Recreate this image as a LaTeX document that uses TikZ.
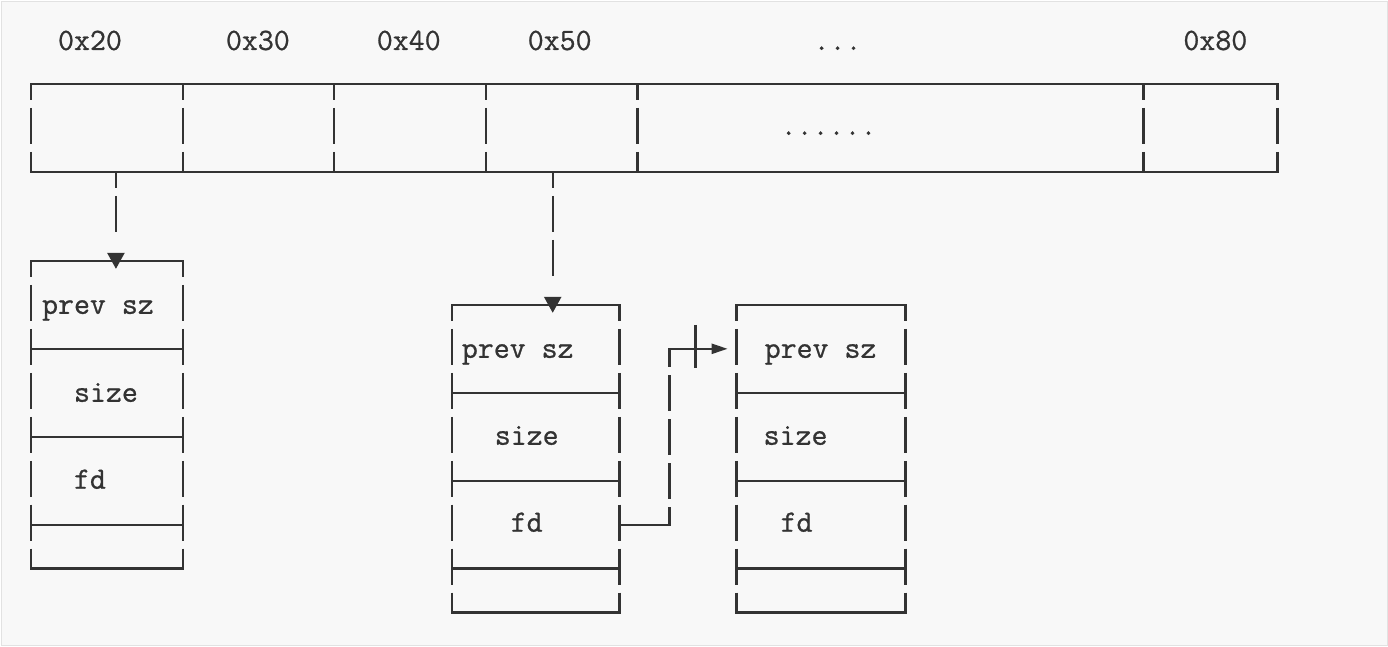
\documentclass[tikz,border=0pt]{standalone}
\usepackage{fontspec}
\newfontfamily\codefont[FakeBold=0.8]{Latin Modern Mono}
\usetikzlibrary{arrows.meta}
\definecolor{ink}{HTML}{333333}
\definecolor{bg}{HTML}{F8F8F8}
\definecolor{frame}{HTML}{E2E2E2}
\tikzset{
  hl/.style={draw=ink,line width=2.4pt,line cap=rect},
  vl/.style={draw=ink,line width=2.4pt,dash pattern=on 36pt off 8pt,dash phase=20pt},
  lbl/.style={text=ink,anchor=base,inner sep=0pt,font=\fontsize{31}{36}\selectfont\codefont},
  downarrow/.style={draw=ink,line width=2.4pt,-{Triangle[length=16pt,width=17pt]}},
  rightarrow/.style={draw=ink,line width=2.4pt,-{Triangle[length=16pt,width=10pt]}},
}
\newcommand{\chunkbox}[4]{%
  \coordinate (#1tl) at (#2,#4);
  \coordinate (#1tr) at (#3,#4);
  \coordinate (#1bl) at (#2,#4+308);
  \coordinate (#1br) at (#3,#4+308);
  \coordinate (#1l1) at (#2,#4+88);  \coordinate (#1r1) at (#3,#4+88);
  \coordinate (#1l2) at (#2,#4+176); \coordinate (#1r2) at (#3,#4+176);
  \coordinate (#1l3) at (#2,#4+264); \coordinate (#1r3) at (#3,#4+264);
  \coordinate (#1out) at (#3,#4+220);
  \draw[hl] (#1tl) -- (#1tr);
  \draw[hl] (#1l1) -- (#1r1);
  \draw[hl] (#1l2) -- (#1r2);
  \draw[hl] (#1l3) -- (#1r3);
  \draw[hl] (#1bl) -- (#1br);
  \draw[vl] (#1tl) -- (#1bl);
  \draw[vl] (#1tr) -- (#1br);
}
\begin{document}
\begin{tikzpicture}[x=1pt,y=-1pt]
\node[draw=frame,fill=bg,line width=1.5pt,minimum width=1386.5pt,minimum height=644.5pt,inner sep=0pt,anchor=north west] (bgrect) at (0.75,0.75) {};
\useasboundingbox (0,0) rectangle (1388,646);

% top array
\foreach \i/\x in {0/31,1/183,2/334,3/486,4/638,5/1144,6/1278}{
  \coordinate (t\i) at (\x,84);
  \coordinate (b\i) at (\x,172);
}
\draw[hl] (t0) -- (t6);
\draw[hl] (b0) -- (b6);
\foreach \i in {0,...,6}{ \draw[vl] (t\i) -- (b\i); }

\node[lbl] (l20) at (90,50) {0x20};
\node[lbl] (l30) at (258,50) {0x30};
\node[lbl] (l40) at (409,50) {0x40};
\node[lbl] (l50) at (560,50) {0x50};
\node[lbl] (ldots) at (838,50) {...};
\node[lbl] (l80) at (1216,50) {0x80};
\node[lbl] (mid) at (829,135) {......};

% chunks
\chunkbox{A}{31}{183}{261}
\chunkbox{B}{452}{620}{305}
\chunkbox{C}{737}{906}{305}

\node[lbl] (Aprev) at (98,314) {prev sz};
\node[lbl] (Asize) at (106,402) {size};
\node[lbl] (Afd) at (90,489) {fd};
\node[lbl] (Bprev) at (518,358) {prev sz};
\node[lbl] (Bsize) at (527,445) {size};
\node[lbl] (Bfd) at (527,532) {fd};
\node[lbl] (Cprev) at (821,358) {prev sz};
\node[lbl] (Csize) at (796,445) {size};
\node[lbl] (Cfd) at (797,532) {fd};

% down connectors
\coordinate (srcA) at (116,172);
\coordinate (tipA) at (116,269);
\coordinate (srcB) at (553,172);
\coordinate (tipB) at (553,313);
\draw[downarrow,dash pattern=on 16pt off 8pt on 36pt off 300pt] (srcA) -- (tipA);
\draw[downarrow,dash pattern=on 16pt off 8pt on 36pt off 8pt on 36pt off 300pt] (srcB) -- (tipB);

% fd link
\coordinate (bend1) at (670,525);
\coordinate (bend2) at (670,349);
\coordinate (tipC) at (728,349);
\coordinate (tickt) at (696,325);
\coordinate (tickb) at (696,368);
\draw[hl] (Bout) -- (bend1);
\draw[vl,dash phase=18pt] (bend1) -- (bend2);
\draw[rightarrow,line cap=rect] (bend2) -- (tipC);
\draw[hl,line cap=butt] (tickt) -- (tickb);
\end{tikzpicture}
\end{document}
